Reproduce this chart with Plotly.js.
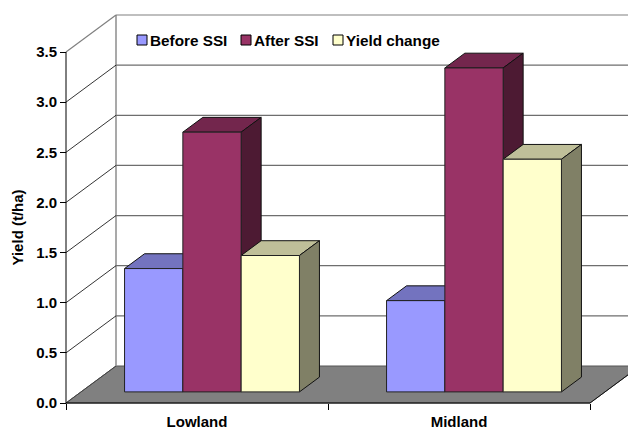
<!DOCTYPE html>
<html>
<head>
<meta charset="utf-8">
<script src="https://cdn.plot.ly/plotly-3.0.1.min.js"></script>
<style>html,body{margin:0;padding:0;background:#fff;overflow:hidden}</style>
</head>
<body>
<div id="chart" style="width:628px;height:431px"></div>
<script>
const categories = ['Lowland', 'Midland'];
const beforeSSI = [1.23, 0.91];
const afterSSI = [2.59, 3.23];
const yieldChange = [1.36, 2.32];
const seriesNames = ['Before SSI', 'After SSI', 'Yield change'];
const yTicks = [0, 0.5, 1, 1.5, 2, 2.5, 3, 3.5];

const seriesValues = [beforeSSI, afterSSI, yieldChange];
const frontColors = ['#9999FF', '#993366', '#FFFFCC'];
const topColors = ['#7373BF', '#73264D', '#BFBF99'];
const sideColors = ['#4D4D80', '#4D1A33', '#808066'];

// axis box in page pixels; the plot area fills the page so the 3D box can overflow the axes
const L = 66, R = 590, T = 52, B = 403, W = 628, H = 431;
const pxX = (R - L) / 2, pxY = (B - T) / 3.5;
// oblique depth of the chart box and of a bar
const wallDX = 50 / pxX, wallDY = 37 / pxY;
const barDX = 0.4 * wallDX, barDY = 0.4 * wallDY;
const baseDX = 0.3 * wallDX, baseDY = 0.3 * wallDY;
const barW = 58.3 / pxX;
const xRange = [-L / pxX, (W - L) / pxX];
const yRange = [-(H - B) / pxY, B / pxY];
const xEnd = xRange[1] + 0.1;

const traces = [];
const poly = (xs, ys, fill, line, width, z) => ({
  type: 'scatter', mode: 'lines', x: xs, y: ys, fill: fill ? 'toself' : 'none',
  fillcolor: fill || undefined, line: {color: line, width: width},
  hoverinfo: 'skip', showlegend: false, zorder: z
});

// floor
traces.push(poly([0, 2, 2 + wallDX, wallDX, 0], [0, 0, wallDY, wallDY, 0], '#808080', '#555555', 1, 0));
traces.push(poly([2, 2 + wallDX], [0, wallDY], null, '#111111', 1, 0));
traces.push(poly([0, wallDX], [0, wallDY], null, '#444444', 1, 0));
// walls and gridlines
traces.push(poly([wallDX, wallDX], [wallDY, 3.5 + wallDY], null, '#8c8c8c', 1.5, 0));
yTicks.forEach(v => {
  if (v === 0) return;
  const top = v === 3.5;
  traces.push(poly([0, wallDX], [v, v + wallDY], null, top ? '#808080' : '#000000', top ? 1.2 : 0.8, 0));
  traces.push(poly([wallDX, xEnd], [v + wallDY, v + wallDY], null, top ? '#808080' : '#6e6e6e', 1.2, 0));
});
// axis lines
traces.push(poly([0, 0], [0, 3.5], null, '#000000', 1, 0));
traces.push(poly([0, 2], [0, 0], null, '#000000', 1, 0));

// bars
seriesNames.forEach((name, s) => {
  const vals = seriesValues[s];
  const off = (s - 1.5) * barW + baseDX;
  vals.forEach((v, c) => {
    const xl = c + 0.5 + off, xr = xl + barW, yb = baseDY, yt = v + baseDY;
    traces.push(poly([xl, xr, xr + barDX, xl + barDX, xl], [yt, yt, yt + barDY, yt + barDY, yt],
      topColors[s], '#111111', 1, 2 * s + 1));
    traces.push(poly([xr, xr + barDX, xr + barDX, xr, xr], [yb, yb + barDY, yt + barDY, yt, yb],
      sideColors[s], '#111111', 1, 2 * s + 1));
  });
  traces.push({
    type: 'bar', name: name, x: vals.map((_, c) => c + 0.5), y: vals, base: baseDY,
    offset: off, width: barW, marker: {color: frontColors[s], line: {color: '#222222', width: 1}},
    hoverinfo: 'skip', showlegend: false, zorder: 2 * s + 2
  });
});

// carries the category labels
traces.push({
  type: 'scatter', mode: 'markers', x: categories, y: categories.map(() => 0), xaxis: 'x2',
  marker: {opacity: 0, size: 1}, hoverinfo: 'skip', showlegend: false
});

const fnt = {family: '"Liberation Sans", Arial, sans-serif', size: 15, color: '#000000', weight: 700};
const legendFont = {...fnt, size: 15.3};
const fx = px => px / W, fy = py => (H - py) / H;
const legendSwatchX = [137, 241, 333], legendTextX = [149, 253, 345], legendY = 40;

const layout = {
  width: W, height: H, showlegend: false, barmode: 'overlay',
  paper_bgcolor: '#ffffff', plot_bgcolor: 'rgba(0,0,0,0)',
  margin: {l: 0, r: 0, t: 0, b: 0, pad: 0},
  xaxis: {range: xRange, visible: false, fixedrange: true},
  xaxis2: {
    type: 'category', overlaying: 'x', anchor: 'free', position: (H - B) / H, side: 'bottom',
    range: [xRange[0] - 0.5, xRange[1] - 0.5],
    categoryorder: 'array', categoryarray: categories, tickson: 'boundaries',
    ticks: 'outside', ticklen: 6, tickwidth: 1, tickcolor: '#000', ticklabelstandoff: 8,
    showline: false, showgrid: false, zeroline: false, tickfont: fnt, fixedrange: true
  },
  yaxis: {
    range: yRange, anchor: 'free', position: L / W, side: 'left',
    tickvals: yTicks, ticktext: yTicks.map(v => v.toFixed(1)),
    ticks: 'outside', ticklen: 6, tickwidth: 1, tickcolor: '#000',
    showline: false, showgrid: false, zeroline: false, tickfont: fnt, fixedrange: true
  },
  shapes: legendSwatchX.map((x, s) => ({
    type: 'rect', xref: 'paper', yref: 'paper', x0: fx(x), x1: fx(x + 10), y0: fy(legendY + 5), y1: fy(legendY - 5),
    fillcolor: frontColors[s], line: {color: '#000', width: 1}, layer: 'above'
  })),
  annotations: seriesNames.map((n, s) => ({
    xref: 'paper', yref: 'paper', x: fx(legendTextX[s]), y: fy(legendY), xanchor: 'left', yanchor: 'middle',
    text: n, showarrow: false, font: legendFont, borderpad: 0
  })).concat([{
    xref: 'paper', yref: 'paper', x: fx(17), y: fy((T + B) / 2), xanchor: 'center', yanchor: 'middle',
    text: 'Yield (t/ha)', textangle: -90, showarrow: false, font: fnt, borderpad: 0
  }])
};
Plotly.newPlot('chart', traces, layout, {displayModeBar: false, staticPlot: true});
</script>
</body>
</html>
